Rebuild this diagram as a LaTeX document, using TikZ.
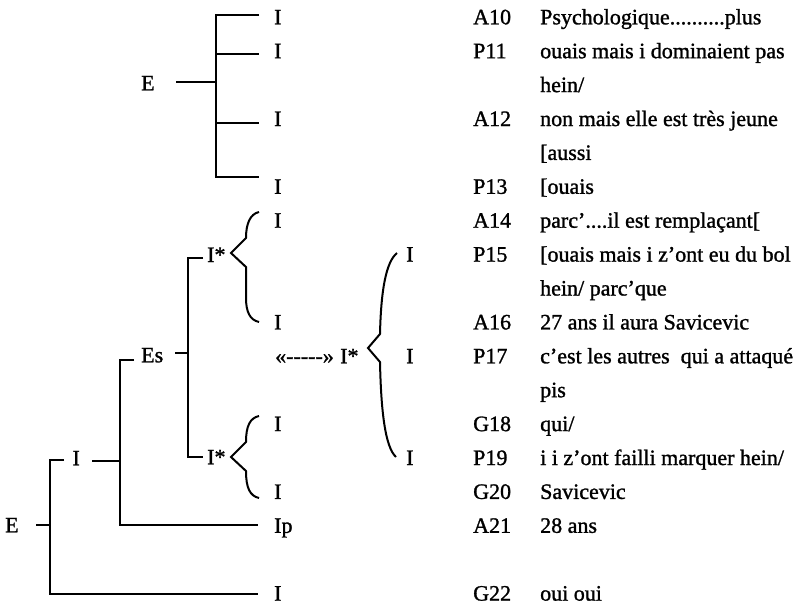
\documentclass[tikz,border=0pt]{standalone}
\usepackage{fontspec}
\setmainfont{Liberation Serif}[FakeBold=1.2]
\begin{document}
\begin{tikzpicture}[x=1pt,y=-1pt,
  lbl/.style={inner sep=0pt, anchor=base west, font=\fontsize{22}{26}\selectfont},
  ln/.style={line width=2.1pt, line cap=butt, line join=miter},
  brc/.style={line width=2pt, line join=miter, line cap=butt}]
\useasboundingbox (0,0) rectangle (806,606);

% ---------- top tree ----------
\node[lbl] (E1) at (141,90.3) {E};
\node[lbl] (I1) at (274,24.3) {I};
\node[lbl] (I2) at (274,58.2) {I};
\node[lbl] (I3) at (274,126) {I};
\node[lbl] (I4) at (274,193.8) {I};
\coordinate (e1a) at (176,82);
\coordinate (e1b) at (216,82);
\coordinate (t1) at (216,15);  \coordinate (t1e) at (259,15);
\coordinate (t2) at (216,54);  \coordinate (t2e) at (259,54);
\coordinate (t3) at (216,123); \coordinate (t3e) at (259,123);
\coordinate (t4) at (216,177); \coordinate (t4e) at (259,177);
\draw[ln] (e1a) -- (e1b);
\draw[ln] (t1e) -- (t1) -- (t4) -- (t4e);
\draw[ln] (t2) -- (t2e);
\draw[ln] (t3) -- (t3e);

% ---------- lower tree ----------
\node[lbl] (I5) at (274,227.7) {I};
\node[lbl] (I6) at (274,329.4) {I};
\node[lbl] (I7) at (274,431.1) {I};
\node[lbl] (I8) at (274,498.9) {I};
\node[lbl] (Ip) at (274,532.8) {Ip};
\node[lbl] (I9) at (274,600.6) {I};

\node[lbl] (Ia) at (207,262) {I*};
\node[lbl] (Ib) at (207,464.3) {I*};
\node[lbl] (Es) at (141,362.3) {Es};
\node[lbl] (Im) at (72.3,465.3) {I};
\node[lbl] (E2) at (5,532.3) {E};

\node[lbl] (arr) at (275,363.3) {«-\kern0pt-\kern0pt-\kern0pt-\kern0pt-»};
\node[lbl] (Ic) at (340,363.3) {I*};
\node[lbl] (Ir1) at (406,261.6) {I};
\node[lbl] (Ir2) at (406,363.3) {I};
\node[lbl] (Ir3) at (406,465) {I};

% connectors
\coordinate (ia0) at (203,258); \coordinate (ia1) at (188,258);
\coordinate (ib0) at (203,457); \coordinate (ib1) at (188,457);
\coordinate (es0) at (175,353); \coordinate (es1) at (188,353);
\draw[ln] (ia0) -- (ia1) -- (ib1) -- (ib0);
\draw[ln] (es0) -- (es1);

\coordinate (s0) at (134,360); \coordinate (s1) at (120,360);
\coordinate (p1) at (120,525); \coordinate (p0) at (258,525);
\coordinate (m0) at (92,461); \coordinate (m1) at (120,461);
\draw[ln] (s0) -- (s1) -- (p1) -- (p0);
\draw[ln] (m0) -- (m1);

\coordinate (l0) at (64,460); \coordinate (l1) at (50,460);
\coordinate (b1) at (50,594); \coordinate (b0) at (258,594);
\coordinate (x0) at (36,525); \coordinate (x1) at (50,525);
\draw[ln] (l0) -- (l1) -- (b1) -- (b0);
\draw[ln] (x0) -- (x1);

% braces
\draw[brc] (259,212) .. controls (250,214) and (246,224) .. (246,238)
  -- (231,253) -- (246,267) -- (246,298)
  .. controls (246,312) and (250,320) .. (259,322);
\draw[brc] (259,416) .. controls (250,418) and (246,426) .. (246,442)
  -- (231,457) -- (246,471)
  .. controls (246,488) and (250,496) .. (259,498);
\draw[brc] (397,253) .. controls (386,262) and (381,290) .. (380,334)
  -- (368,348) -- (380,362)
  .. controls (381,410) and (385,447) .. (396,457);

% ---------- transcript ----------
\node[lbl] (c10) at (473,24.3) {A10};
\node[lbl] (u10) at (540,24.3) {Psychologique..........plus};
\node[lbl] (c11) at (473,58.2) {P11};
\node[lbl] (u11) at (540,58.2) {ouais mais i dominaient pas};
\node[lbl] (u11b) at (540,92.1) {hein/};
\node[lbl] (c12) at (473,126) {A12};
\node[lbl] (u12) at (540,126) {non mais elle est très jeune};
\node[lbl] (u12b) at (540,159.9) {[aussi};
\node[lbl] (c13) at (473,193.8) {P13};
\node[lbl] (u13) at (540,193.8) {[ouais};
\node[lbl] (c14) at (473,227.7) {A14};
\node[lbl] (u14) at (540,227.7) {parc'....il est remplaçant[};
\node[lbl] (c15) at (473,261.6) {P15};
\node[lbl] (u15) at (540,261.6) {[ouais mais i z'ont eu du bol};
\node[lbl] (u15b) at (540,295.5) {hein/ parc'que};
\node[lbl] (c16) at (473,329.4) {A16};
\node[lbl] (u16) at (540,329.4) {27 ans il aura Savicevic};
\node[lbl] (c17) at (473,363.3) {P17};
\node[lbl] (u17) at (540,363.3) {c'est les autres\ \ qui a attaqué};
\node[lbl] (u17b) at (540,397.2) {pis};
\node[lbl] (c18) at (473,431.1) {G18};
\node[lbl] (u18) at (540,431.1) {qui/};
\node[lbl] (c19) at (473,465) {P19};
\node[lbl] (u19) at (540,465) {i i z'ont failli marquer hein/};
\node[lbl] (c20) at (473,498.9) {G20};
\node[lbl] (u20) at (540,498.9) {Savicevic};
\node[lbl] (c21) at (473,532.8) {A21};
\node[lbl] (u21) at (540,532.8) {28 ans};
\node[lbl] (c22) at (473,600.6) {G22};
\node[lbl] (u22) at (540,600.6) {oui oui};
\end{tikzpicture}
\end{document}
